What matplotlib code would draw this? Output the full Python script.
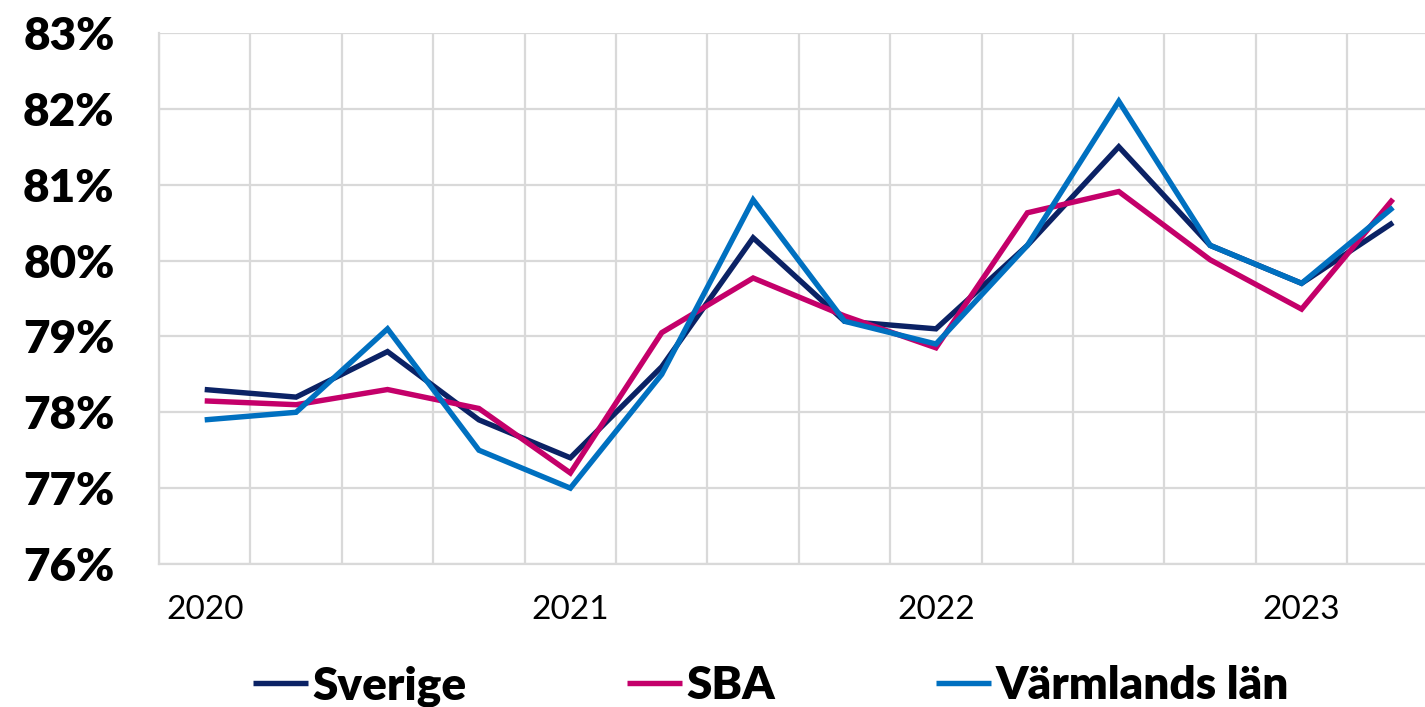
import matplotlib
matplotlib.use("Agg")
import matplotlib.pyplot as plt
from matplotlib.ticker import FixedLocator, FuncFormatter

# quarterly values 2020 Q1 .. 2023 Q2 (in %)
quarters = list(range(14))
year_labels = {0: "2020", 4: "2021", 8: "2022", 12: "2023"}

sverige = [78.3, 78.2, 78.8, 77.9, 77.4, 78.6, 80.3, 79.2, 79.1, 80.2, 81.5, 80.2, 79.7, 80.5]
sba = [78.15, 78.1, 78.3, 78.05, 77.2, 79.05, 79.77, 79.27, 78.85, 80.63, 80.91, 80.01, 79.36, 80.81]
varmland = [77.9, 78.0, 79.1, 77.5, 77.0, 78.5, 80.8, 79.2, 78.9, 80.2, 82.1, 80.2, 79.7, 80.7]

series_names = ["Sverige", "SBA", "Värmlands län"]
colors = ["#0b2265", "#c4006a", "#0070c0"]

plt.rcParams['font.family'] = ['Lato', 'DejaVu Sans']

fig = plt.figure(figsize=(14.25, 7.07), dpi=100)
ax = fig.add_axes([159 / 1425, 1 - 564 / 707, 1 - 159 / 1425, (564 - 33) / 707])

for vals, name, c in zip([sverige, sba, varmland], series_names, colors):
    ax.plot(quarters, vals, color=c, lw=3.9, label=name, solid_joinstyle='miter',
            solid_capstyle='butt', zorder=3)

ax.set_ylim(76, 83)
ax.set_xlim(-0.5, 13.35)
ax.set_yticks(range(76, 84))
ax.yaxis.set_major_formatter(FuncFormatter(lambda v, p: f"{int(v)}%"))

ax.set_xticks(list(year_labels.keys()))
ax.set_xticklabels(list(year_labels.values()))
ax.xaxis.set_minor_locator(FixedLocator([i + 0.5 for i in range(-1, 14)]))

ax.grid(axis='y', which='major', color='#d9d9d9', lw=1.6, zorder=0)
ax.grid(axis='x', which='minor', color='#d9d9d9', lw=1.6, zorder=0)
ax.grid(axis='x', which='major', visible=False)

for s in ['top', 'right']:
    ax.spines[s].set_visible(False)
for s in ['left', 'bottom']:
    ax.spines[s].set_color('#d9d9d9')
    ax.spines[s].set_linewidth(1.6)

ax.tick_params(axis='both', which='both', length=0)
ax.tick_params(axis='y', pad=32, labelsize=33)
ax.tick_params(axis='x', pad=22, labelsize=24)
for t in ax.get_yticklabels():
    t.set_fontweight('heavy')

fig.legend(loc='center', bbox_to_anchor=(0.541, 0.030), ncol=3, frameon=False,
           prop={'size': 33, 'weight': 'heavy'}, handlelength=1.2,
           handletextpad=0.1, columnspacing=3.5, borderaxespad=0, borderpad=0)

fig.savefig("out.png", dpi=100)
